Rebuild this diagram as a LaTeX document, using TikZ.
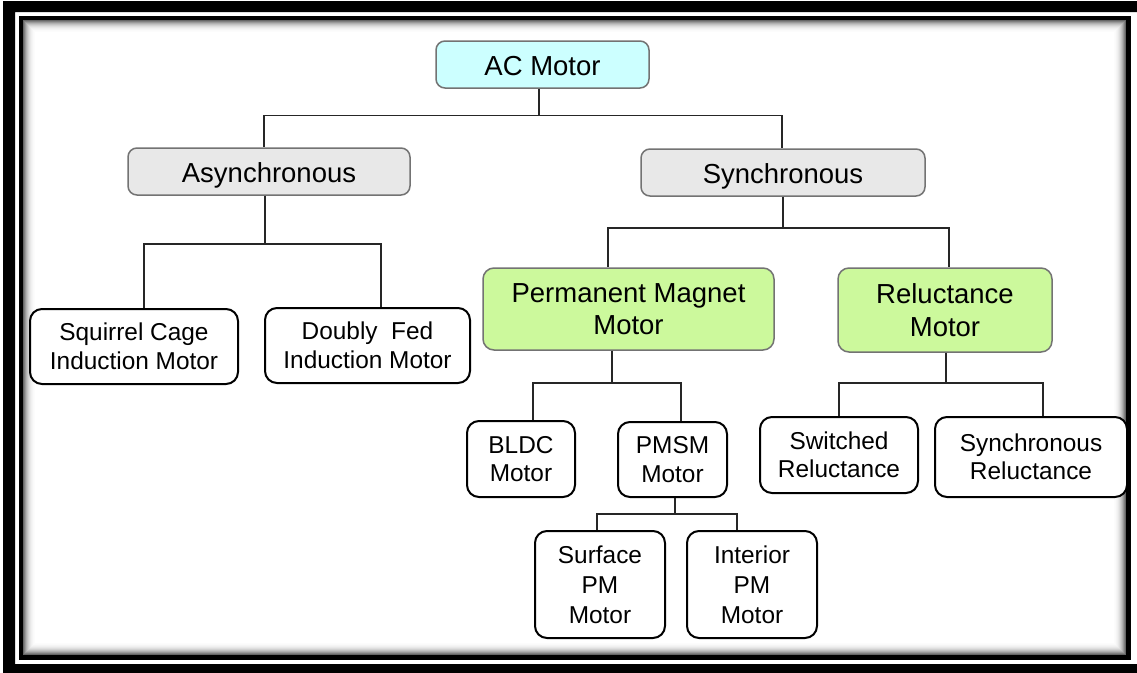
\documentclass[tikz,border=0pt]{standalone}
\usepackage{fontspec}
\setmainfont{Liberation Sans}
\definecolor{accyan}{HTML}{CCFFFF}
\definecolor{lgray}{HTML}{E8E8E8}
\definecolor{lgreen}{HTML}{CCF99C}
\begin{document}
\begin{tikzpicture}[x=1pt,y=-1pt,
  lvl/.style={draw=black!55,line width=1.5pt,rounded corners=9pt,inner sep=0pt,align=center,font=\fontsize{27.5}{32}\selectfont},
  single/.style={text height=24.5pt,text depth=2pt},
  leaf/.style={draw=black,line width=2pt,rounded corners=12pt,fill=white,inner sep=0pt,align=center,font=\fontsize{24.4}{28.5}\selectfont},
  conn/.style={draw=black!85,line width=1.5pt}]
\useasboundingbox (0,0) rectangle (1137,672);
\begin{scope}
  \clip (0,0) rectangle (1137,672);
  \fill[white] (0,0) rectangle (1137,672);
  % outer thick band
  \fill[black,even odd rule] (3,1) rectangle (1160,690) (15,12) rectangle (1140,664);
  % inner shadow
  \foreach \i/\c in {1/60,2/50,3/40,4/31,5/24,6/18,7/13,8/9,9/6,10/4,11/2,12/1}{
    \draw[black!\c,line width=1pt] (23.25+\i-0.5,20.25+\i-0.5) rectangle (1126.25-\i+0.5,655.25-\i+0.5);
  }
  % inner frame
  \draw[black,line width=4.5pt] (21,18) rectangle (1128.5,657.5);
\end{scope}

% level 0
\node[lvl,single,fill=accyan,minimum width=213pt,minimum height=47pt] (ac) at (542.5,64.5) {AC Motor};
% level 1
\node[lvl,single,fill=lgray,minimum width=282pt,minimum height=47pt] (async) at (269,171.5) {Asynchronous};
\node[lvl,single,fill=lgray,minimum width=284pt,minimum height=47pt] (sync) at (783,172.5) {Synchronous};
% level 2
\node[leaf,minimum width=208pt,minimum height=75pt] (sq) at (134,346.5) {Squirrel Cage\\Induction Motor};
\node[leaf,minimum width=205pt,minimum height=75pt] (db) at (367.5,345.5) {Doubly\ \ Fed\\Induction Motor};
\node[lvl,fill=lgreen,minimum width=291pt,minimum height=82pt,rounded corners=11pt] (pm) at (628.5,309) {Permanent Magnet\\Motor};
\node[lvl,fill=lgreen,minimum width=214pt,minimum height=84pt,rounded corners=11pt,font=\fontsize{27.5}{33}\selectfont] (rel) at (945,310) {Reluctance\\Motor};
% level 3
\node[leaf,minimum width=108pt,minimum height=76pt] (bldc) at (521,459) {BLDC\\Motor};
\node[leaf,minimum width=109pt,minimum height=75pt] (pmsm) at (672.5,459.5) {PMSM\\Motor};
\node[leaf,minimum width=158pt,minimum height=76pt] (sw) at (839,455) {Switched\\Reluctance};
\node[leaf,minimum width=192pt,minimum height=80pt] (sr) at (1031,457) {Synchronous\\Reluctance};
% level 4
\node[leaf,minimum width=130pt,minimum height=107pt,font=\fontsize{24.4}{30}\selectfont] (surf) at (600,584.5) {Surface\\PM\\Motor};
\node[leaf,minimum width=130pt,minimum height=107pt,font=\fontsize{24.4}{30}\selectfont] (int) at (752,584.5) {Interior\\PM\\Motor};

% connectors
\draw[conn] ([xshift=-3.5pt]ac.south) -- ++(0,26.5) -| ([xshift=-5pt]async.north);
\draw[conn] ([xshift=-3.5pt]ac.south) -- ++(0,26.5) -| ([xshift=-1pt]sync.north);
\draw[conn] ([xshift=-4pt]async.south) -- ++(0,48) -| ([xshift=10pt]sq.north);
\draw[conn] ([xshift=-4pt]async.south) -- ++(0,48) -| ([xshift=13.5pt]db.north);
\draw[conn] (sync.south) -- ++(0,31) -| ([xshift=-20.5pt]pm.north);
\draw[conn] (sync.south) -- ++(0,31) -| ([xshift=4pt]rel.north);
\draw[conn] ([xshift=-16.5pt]pm.south) -- ++(0,32) -| ([xshift=12pt]bldc.north);
\draw[conn] ([xshift=-16.5pt]pm.south) -- ++(0,32) -| ([xshift=8.5pt]pmsm.north);
\draw[conn] ([xshift=1pt]rel.south) -- ++(0,30) -| (sw.north);
\draw[conn] ([xshift=1pt]rel.south) -- ++(0,30) -| ([xshift=12pt]sr.north);
\draw[conn] ([xshift=2.5pt]pmsm.south) -- ++(0,16) -| ([xshift=-3pt]surf.north);
\draw[conn] ([xshift=2.5pt]pmsm.south) -- ++(0,16) -| ([xshift=-15pt]int.north);
\end{tikzpicture}
\end{document}
